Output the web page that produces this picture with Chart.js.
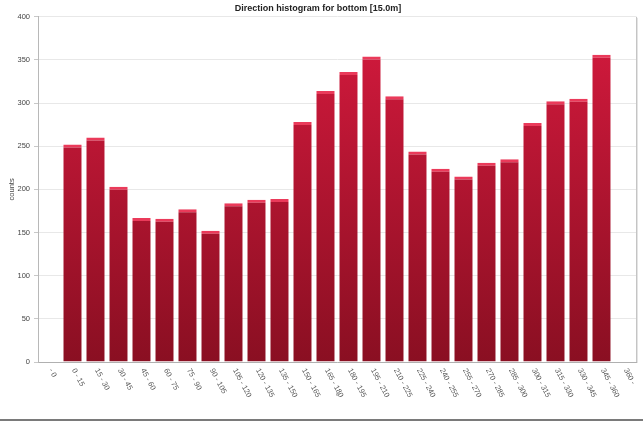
<!DOCTYPE html>
<html lang="en">
  <head>
    <meta charset="UTF-8" />
    <title>Direction histogram</title>
    <script src="https://cdn.jsdelivr.net/npm/chart.js"></script>
    <style>
      html, body { margin: 0; padding: 0; background: #fff; }
      .wrap { width: 643px; height: 419px; border-bottom: 2px solid #7a7a7a; position: relative; }
    </style>
  </head>
  <body>
    <div class="wrap"><canvas id="histChart" width="643" height="419"></canvas></div>

    <script>
      const binLabels = [
        "- 0", "0 - 15", "15 - 30", "30 - 45", "45 - 60", "60 - 75", "75 - 90",
        "90 - 105", "105 - 120", "120 - 135", "135 - 150", "150 - 165",
        "165 - 180", "180 - 195", "195 - 210", "210 - 225", "225 - 240",
        "240 - 255", "255 - 270", "270 - 285", "285 - 300", "300 - 315",
        "315 - 330", "330 - 345", "345 - 360", "360 -",
      ];
      const counts = [
        null, 252, 260, 203, 167, 166, 177, 152, 184, 188, 189, 278, 314,
        336, 354, 308, 244, 224, 215, 231, 235, 277, 302, 305, 356, null,
      ];
      const yTicks = [0, 50, 100, 150, 200, 250, 300, 350, 400];
      const chartTitle = "Direction histogram for bottom [15.0m]";
      const xTitle = "°";
      const yTitle = "counts";

      const tickFont = "7.5px 'Liberation Sans', Arial, sans-serif";

      // rotated x labels (clockwise, reading downwards) + frame on the right
      const extras = {
        id: "extras",
        afterDraw(chart) {
          const { ctx, chartArea } = chart;
          const xs = chart.scales.x;
          ctx.save();
          // right frame with a small shadow
          ctx.strokeStyle = "#c4c4c4";
          ctx.lineWidth = 1;
          ctx.beginPath();
          ctx.moveTo(chartArea.right + 0.5, chartArea.top);
          ctx.lineTo(chartArea.right + 0.5, chartArea.bottom);
          ctx.stroke();
          ctx.strokeStyle = "#e4e4e4";
          ctx.beginPath();
          ctx.moveTo(chartArea.right + 1.5, chartArea.top + 1);
          ctx.lineTo(chartArea.right + 1.5, chartArea.bottom + 1);
          ctx.stroke();

          ctx.font = tickFont;
          ctx.fillStyle = "#555";
          ctx.textAlign = "left";
          ctx.textBaseline = "middle";
          binLabels.forEach((lab, i) => {
            const x = xs.getPixelForTick(i);
            ctx.save();
            ctx.translate(x + 1, chartArea.bottom + 7);
            ctx.rotate((62 * Math.PI) / 180);
            ctx.fillText(lab, 0, 0);
            ctx.restore();
          });
          ctx.font = "8px 'Liberation Sans', Arial, sans-serif";
          ctx.textAlign = "center";
          ctx.fillText(xTitle, (chartArea.left + chartArea.right) / 2, 397);
          ctx.restore();
        },
      };

      function barGradient(context) {
        const { ctx, chartArea } = context.chart;
        if (!chartArea) return "#b5142f";
        const g = ctx.createLinearGradient(0, chartArea.top, 0, chartArea.bottom);
        g.addColorStop(0, "#d51a3e");
        g.addColorStop(1, "#8a0f22");
        return g;
      }

      new Chart(document.getElementById("histChart"), {
        type: "bar",
        data: {
          labels: binLabels,
          datasets: [
            {
              data: counts,
              backgroundColor: barGradient,
              borderColor: "#ea3a5a",
              borderWidth: { top: 3, left: 0, right: 0, bottom: 0 },
              borderSkipped: false,
              barPercentage: 0.8,
              categoryPercentage: 1,
            },
          ],
        },
        options: {
          responsive: false,
          animation: false,
          layout: { padding: { left: 0, right: 7, top: 0, bottom: 0 } },
          plugins: {
            legend: { display: false },
            tooltip: { enabled: false },
            title: {
              display: true,
              text: chartTitle,
              color: "#222",
              font: { family: "'Liberation Sans', Arial, sans-serif", size: 9, weight: "bold" },
              padding: { top: 3, bottom: 3 },
            },
          },
          scales: {
            x: {
              grid: { display: false },
              border: { display: true, color: "#b0b0b0" },
              ticks: { display: false },
              afterFit(scale) {
                scale.height = 57;
              },
            },
            y: {
              min: 0,
              max: 400,
              afterBuildTicks(scale) {
                scale.ticks = yTicks.map((v) => ({ value: v }));
              },
              grid: { color: "#e8e8e8", tickLength: 4, tickColor: "#c8c8c8" },
              border: { display: true, color: "#b8b8b8" },
              ticks: {
                color: "#444",
                padding: 4,
                font: { family: "'Liberation Sans', Arial, sans-serif", size: 7.5 },
              },
              title: {
                display: true,
                text: yTitle,
                color: "#444",
                padding: { top: 7, bottom: 4 },
                font: { family: "'Liberation Sans', Arial, sans-serif", size: 7.5 },
              },
              afterFit(scale) {
                scale.width = 38;
              },
            },
          },
        },
        plugins: [extras],
      });
    </script>
  </body>
</html>
